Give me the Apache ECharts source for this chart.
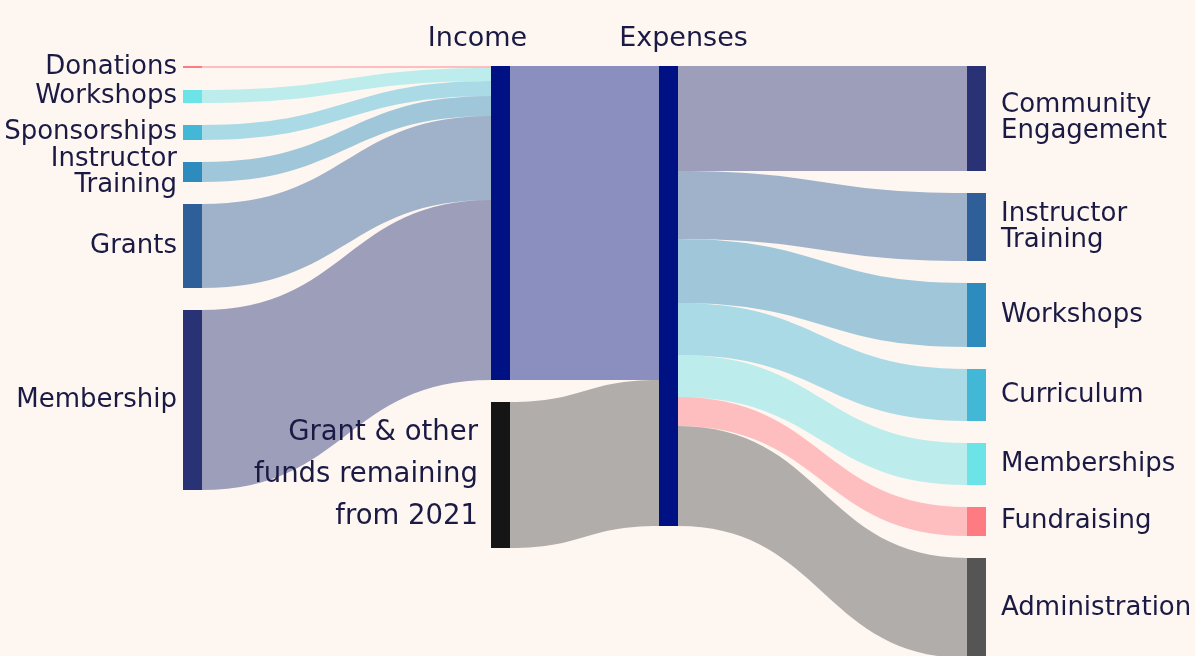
<!DOCTYPE html>
<html>
<head>
<meta charset="utf-8">
<title>Income and Expenses</title>
<script src="https://cdn.jsdelivr.net/npm/echarts@6/dist/echarts.min.js"></script>
<style>
    html, body { margin: 0; padding: 0; background: #fef6f0; }
    #sankey { width: 1195px; height: 656px; }
</style>
</head>
<body>
<div id="sankey"></div>
<script>
// where the money came from (left column)
const incomeSources = ['Donations', 'Workshops', 'Sponsorships', 'Instructor\nTraining', 'Grants', 'Membership']
const incomeValues = [2, 13, 15, 20, 84, 180]
const incomeColors = ['#ff7b82', '#6ce3e6', '#43b8d6', '#2e8bbd', '#2e5f98', '#283275']

// money carried over, goes straight into expenses
const carryOverLabel = 'Grant & other\nfunds remaining\nfrom 2021'
const carryOverValue = 146

// where it went (right column)
const expenseCategories = ['Community\nEngagement', 'Instructor\nTraining', 'Workshops', 'Curriculum', 'Memberships', 'Fundraising', 'Administration']
const expenseValues = [105, 68, 64, 52, 42, 29, 100]
const expenseColors = ['#283275', '#2e5f98', '#2e8bbd', '#43b8d6', '#6ce3e6', '#ff7b82', '#555555']

const textColor = '#1a1a44'
const font = 'DejaVu Sans'

// column of each kind of node, spaced like the original (0 | 11 | 17 | 28)
const depth = {source: 0, income: 11, expenses: 17, category: 28}

let nodes = []
let links = []

incomeSources.forEach(function (name, i) {
    nodes.push({
        name: 'src' + i,
        depth: depth.source,
        itemStyle: {color: incomeColors[i]},
        label: {position: 'left', distance: 6, align: 'right', lineHeight: 26, formatter: name}
    })
    links.push({source: 'src' + i, target: 'income', value: incomeValues[i], lineStyle: {color: incomeColors[i]}})
})

nodes.push({
    name: 'income',
    depth: depth.income,
    itemStyle: {color: '#001283'},
    label: {position: 'top', distance: 14, offset: [-23, 0], fontSize: 27, formatter: 'Income'}
})
nodes.push({
    name: 'carry',
    depth: depth.income,
    itemStyle: {color: '#151515'},
    label: {position: 'left', distance: 13, align: 'right', fontSize: 27.5, lineHeight: 42, formatter: carryOverLabel}
})
nodes.push({
    name: 'expenses',
    depth: depth.expenses,
    itemStyle: {color: '#001283'},
    label: {position: 'top', distance: 14, offset: [15, 0], fontSize: 27, formatter: 'Expenses'}
})

let incomeTotal = incomeValues.reduce((a, b) => a + b, 0)
links.push({source: 'income', target: 'expenses', value: incomeTotal, lineStyle: {color: '#001283'}})
links.push({source: 'carry', target: 'expenses', value: carryOverValue, lineStyle: {color: '#555555'}})

expenseCategories.forEach(function (name, i) {
    nodes.push({
        name: 'exp' + i,
        depth: depth.category,
        itemStyle: {color: expenseColors[i]},
        label: {position: 'right', distance: 15, align: 'left', lineHeight: 26, formatter: name}
    })
    links.push({source: 'expenses', target: 'exp' + i, value: expenseValues[i], lineStyle: {color: expenseColors[i]}})
})

let chart = echarts.init(document.getElementById('sankey'))
chart.setOption({
    backgroundColor: '#fef6f0',
    animation: false,
    tooltip: {show: false},
    series: [{
        type: 'sankey',
        left: 183,
        right: 209,
        top: 66,
        height: 592,
        nodeWidth: 19,
        nodeGap: 22,
        nodeAlign: 'left',
        // keep the nodes in the order given
        layoutIterations: 0,
        draggable: false,
        emphasis: {disabled: true},
        itemStyle: {borderWidth: 0},
        lineStyle: {opacity: 0.45, curveness: 0.5},
        label: {fontFamily: font, fontSize: 26, color: textColor},
        data: nodes,
        links: links
    }]
})
</script>
</body>
</html>
